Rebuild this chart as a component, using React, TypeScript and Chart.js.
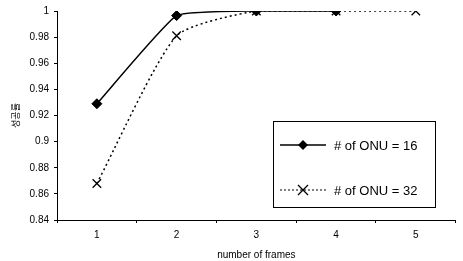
import React, { useEffect, useRef } from "react";
import { Chart, registerables } from "chart.js";

Chart.register(...registerables);

const categories = ["1", "2", "3", "4", "5"];
const onu16 = [0.929, 0.9965, 1.0, 1.0, null];
const onu32 = [0.868, 0.981, 1.0, 1.0, 1.0];
const yTicks = [0.84, 0.86, 0.88, 0.9, 0.92, 0.94, 0.96, 0.98, 1];
const seriesLabels = ["# of ONU = 16", "# of ONU = 32"];
const xTitle = "number of frames";
const yTitle = "성공률";

const FONT = "'Liberation Sans', Arial, sans-serif";

const legendBox = {
  id: "legendBox",
  afterDraw(chart: any) {
    const ctx = chart.ctx as CanvasRenderingContext2D;
    const x0 = 273, y0 = 121, x1 = 435, y1 = 207;
    ctx.save();
    ctx.fillStyle = "#fff";
    ctx.fillRect(x0, y0, x1 - x0, y1 - y0);
    ctx.strokeStyle = "#000";
    ctx.lineWidth = 1;
    ctx.strokeRect(x0 + 0.5, y0 + 0.5, x1 - x0, y1 - y0);
    const rows = [145, 190];
    rows.forEach((y, i) => {
      ctx.beginPath();
      ctx.setLineDash(i === 0 ? [] : [2, 2]);
      ctx.lineWidth = i === 0 ? 1.5 : 1.2;
      ctx.moveTo(280, y);
      ctx.lineTo(326, y);
      ctx.stroke();
      ctx.setLineDash([]);
      const cx = 303;
      if (i === 0) {
        ctx.fillStyle = "#000";
        ctx.beginPath();
        ctx.moveTo(cx, y - 5);
        ctx.lineTo(cx + 5, y);
        ctx.lineTo(cx, y + 5);
        ctx.lineTo(cx - 5, y);
        ctx.closePath();
        ctx.fill();
      } else {
        ctx.lineWidth = 1.3;
        ctx.beginPath();
        ctx.moveTo(cx - 5, y - 5);
        ctx.lineTo(cx + 5, y + 5);
        ctx.moveTo(cx + 5, y - 5);
        ctx.lineTo(cx - 5, y + 5);
        ctx.stroke();
      }
      ctx.fillStyle = "#000";
      ctx.font = `13px ${FONT}`;
      ctx.textBaseline = "middle";
      ctx.textAlign = "left";
      ctx.fillText(seriesLabels[i], 334, y + 1);
    });
    ctx.restore();
  },
};

export default function App() {
  const ref = useRef<HTMLCanvasElement>(null);
  useEffect(() => {
    const chart = new Chart(ref.current!, {
      type: "line",
      data: {
        labels: categories,
        datasets: [
          {
            label: seriesLabels[0],
            data: onu16,
            borderColor: "#000",
            backgroundColor: "#000",
            borderWidth: 1.5,
            pointStyle: "rectRot",
            pointRadius: 5,
            pointBorderWidth: 1,
            tension: 0.12,
            spanGaps: false,
          },
          {
            label: seriesLabels[1],
            data: onu32,
            borderColor: "#000",
            backgroundColor: "#000",
            borderWidth: 1.5,
            borderDash: [2, 3],
            pointStyle: "crossRot",
            pointRadius: 6,
            pointBorderWidth: 1.3,
            tension: 0.2,
          },
        ],
      },
      options: {
        animation: false,
        responsive: false,
        layout: { padding: { top: 10, right: 3, left: 0, bottom: 0 } },
        plugins: { legend: { display: false }, tooltip: { enabled: false } },
        scales: {
          x: {
            offset: true,
            grid: {
              display: true,
              offset: true,
              drawOnChartArea: false,
              drawTicks: true,
              tickLength: 3,
              color: "#000",
            },
            border: { color: "#000", width: 1 },
            ticks: { color: "#000", font: { family: FONT, size: 10 }, padding: 6 },
            title: {
              display: true,
              text: xTitle,
              color: "#000",
              font: { family: FONT, size: 10 },
              padding: { top: 2, bottom: 0 },
            },
            afterFit(scale: any) {
              scale.height = 41;
            },
          },
          y: {
            min: 0.84,
            max: 1,
            afterBuildTicks(scale: any) {
              scale.ticks = yTicks.map((v) => ({ value: v }));
            },
            grid: {
              display: true,
              drawOnChartArea: false,
              drawTicks: true,
              tickLength: 3,
              color: "#000",
            },
            border: { color: "#000", width: 1 },
            ticks: {
              color: "#000",
              font: { family: FONT, size: 10 },
              padding: 5,
              callback: (v: any) => String(Number(v)),
            },
            title: {
              display: true,
              text: yTitle,
              color: "#000",
              font: { family: "'Noto Sans CJK KR', sans-serif", size: 9 },
              padding: { top: 10, bottom: 0 },
            },
            afterFit(scale: any) {
              scale.width = 57;
            },
          },
        },
      },
      plugins: [legendBox],
    });
    return () => chart.destroy();
  }, []);
  return (
    <div style={{ position: "fixed", left: 0, top: 0, width: 463, height: 261, background: "#fff" }}>
      <canvas ref={ref} width={463} height={261} />
    </div>
  );
}
